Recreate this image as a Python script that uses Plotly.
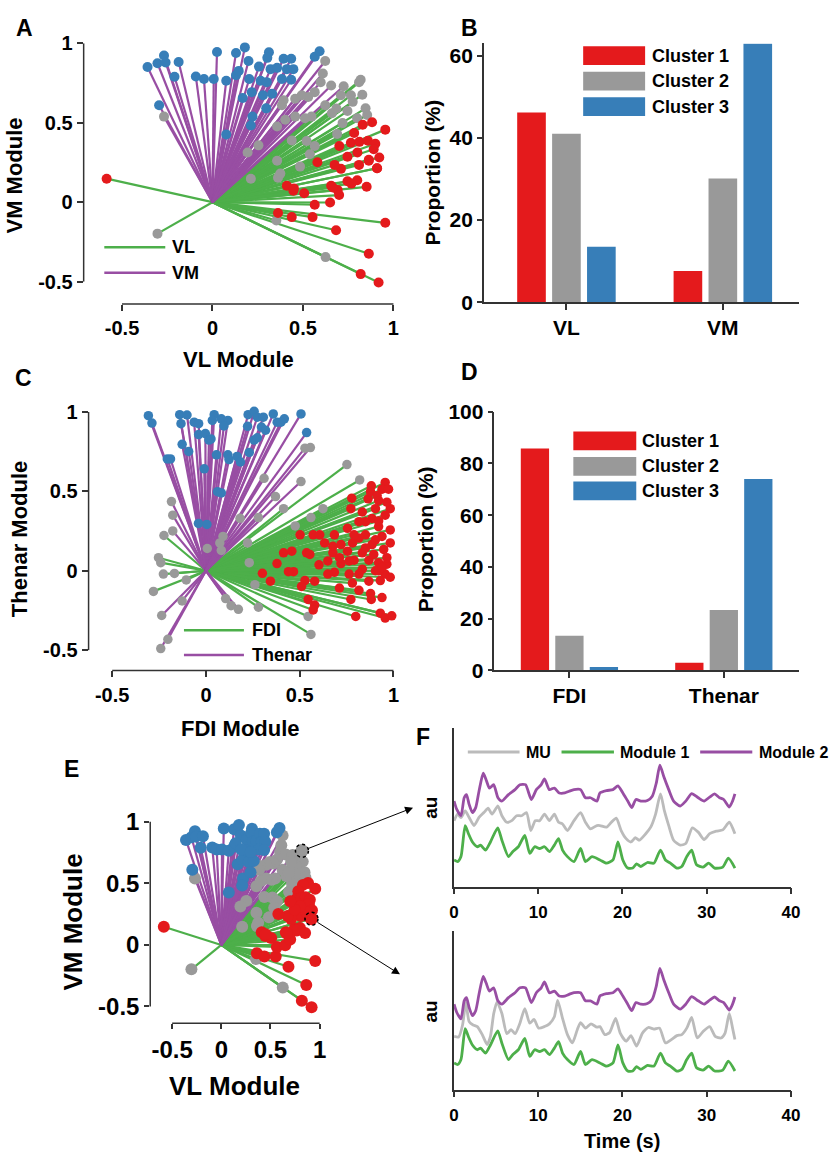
import plotly.graph_objects as go

W, H = 837, 1165
FONT = "Liberation Sans, Arial, Helvetica, sans-serif"
RED, GRAY, BLUE = "#E41A1C", "#999999", "#377EB8"
GREEN, PURPLE, LGRAY = "#4DAF4A", "#984EA3", "#BBBBBB"
AXC = "#333333"

# ---------------- data: panel A / E (VL vs VM module weights) ----------------
vl_c1_x = [-0.585, 0.955, 0.683, 0.864, 0.819, 0.918, 0.362, 0.438, 0.553, 0.565, 0.65, 0.411, 0.447,
           0.507, 0.656, 0.692, 0.70, 0.746, 0.80, 0.768, 0.852, 0.909, 0.81, 0.71, 0.675, 0.58, 0.864,
           0.955, 0.882, 0.83, 0.783, 0.765, 0.812, 0.859, 0.90, 0.891, 0.922, 0.91, 0.864, 0.801,
           0.746, 0.701, 0.45, 0.665]
vm_c1_y = [0.148, -0.13, -0.177, -0.325, -0.453, -0.506, -0.068, -0.094, -0.094, -0.016, -0.002, 0.103, 0.072,
           0.056, 0.103, 0.076, 0.045, 0.132, 0.138, 0.117, 0.097, 0.214, 0.235, 0.21, 0.235, 0.251, 0.261,
           0.457, 0.504, 0.488, 0.436, 0.374, 0.38, 0.387, 0.368, 0.333, 0.282, 0.214, 0.267, 0.313,
           0.286, 0.354, 0.087, 0.092]
vl_c2_x = [0.623, 0.61, 0.598, 0.656, 0.725, 0.81, 0.819, 0.765, 0.828, 0.775, 0.846, 0.855, 0.80, 0.746,
           0.719, 0.689, 0.66, 0.623, 0.565, 0.529, 0.493, 0.457, 0.393, 0.384, 0.547, 0.511, 0.457, 0.402,
           0.357, 0.438, 0.52, 0.565, 0.538, 0.357, 0.484, 0.254, 0.194, 0.212, 0.362, 0.375, -0.268,
           0.685, 0.71, -0.304, 0.353, 0.625]
vm_c2_y = [0.889, 0.81, 0.755, 0.735, 0.73, 0.755, 0.771, 0.673, 0.677, 0.632, 0.591, 0.549, 0.529, 0.574,
           0.498, 0.43, 0.56, 0.611, 0.693, 0.662, 0.673, 0.652, 0.642, 0.611, 0.539, 0.529, 0.539, 0.519,
           0.477, 0.389, 0.385, 0.354, 0.302, 0.261, 0.224, 0.358, 0.313, 0.148, 0.154, 0.18, 0.539,
           0.59, 0.673, -0.198, -0.115, -0.346]
vl_c3_x = [-0.359, -0.304, -0.268, -0.259, -0.187, -0.21, -0.295, -0.092, -0.047, 0.007, 0.025, 0.076, 0.076,
           0.13, 0.179, 0.199, 0.13, 0.145, 0.167, 0.217, 0.221, 0.212, 0.257, 0.279, 0.297, 0.33, 0.312,
           0.303, 0.321, 0.266, 0.203, 0.357, 0.393, 0.435, 0.411, 0.447, 0.384, 0.435, 0.565, 0.592, 0.30]
vm_c3_y = [0.852, 0.875, 0.924, 0.88, 0.883, 0.79, 0.611, 0.792, 0.776, 0.776, 0.946, 0.765, 0.426,
           0.94, 0.975, 0.889, 0.80, 0.827, 0.656, 0.693, 0.539, 0.483, 0.854, 0.673, 0.591, 0.683, 0.944,
           0.909, 0.838, 0.765, 0.776, 0.846, 0.903, 0.903, 0.838, 0.838, 0.776, 0.771, 0.916, 0.951, 0.756]

# highlighted motor units in panel E
hl_x = [0.82, 0.917]
hl_y = [0.765, 0.213]

# ---------------- data: panel C (FDI vs Thenar) ----------------
fdi_c1_x = [0.956, 0.882, 0.939, 0.974, 0.778, 0.865, 0.921, 0.983, 0.904, 0.773, 0.834, 0.956, 0.886, 0.816,
            0.755, 0.921, 0.983, 0.685, 0.851, 0.939, 0.572, 0.502, 0.633, 0.72, 0.782, 0.886, 0.983, 0.948,
            0.834, 0.755, 0.677, 0.537, 0.414, 0.458, 0.554, 0.65, 0.72, 0.79, 0.869, 0.921, 0.965, 0.379,
            0.603, 0.834, 0.904, 0.956, 0.764, 0.685, 0.467, 0.44, 0.301, 0.344, 0.528, 0.58, 0.51, 0.712,
            0.816, 0.878, 0.983, 0.93, 0.869, 0.781, 0.545, 0.58, 0.572, 0.773, 0.882, 0.939, 0.799, 0.93,
            0.956, 0.991, 0.921, 0.851, 0.816, 0.895, 0.764, 0.607, 0.677, 0.878, 0.913, 0.965, 0.79, 0.904,
            0.965, 0.65, 0.816, 0.921, 0.851, 0.939, 0.712]
thn_c1_y = [0.556, 0.535, 0.514, 0.514, 0.457, 0.453, 0.442, 0.391, 0.391, 0.391, 0.37, 0.35, 0.329, 0.309,
            0.267, 0.278, 0.257, 0.226, 0.226, 0.216, 0.226, 0.226, 0.175, 0.165, 0.175, 0.165, 0.175, 0.134,
            0.113, 0.123, 0.113, 0.113, 0.113, 0.123, 0.103, 0.062, 0.045, 0.066, 0.066, 0.051, 0.041, 0.045,
            0.037, 0.01, 0.0, -0.021, -0.021, -0.01, -0.006, -0.006, -0.016, -0.066, -0.062, -0.066, -0.099,
            -0.109, -0.123, -0.144, -0.041, -0.062, -0.066, -0.078, -0.181, -0.216, -0.247, -0.181, -0.181,
            -0.169, -0.288, -0.267, -0.298, -0.284, 0.313, 0.309, 0.206, 0.103, 0.062, 0.226, 0.154, 0.498,
            0.473, 0.432, 0.226, 0.195, 0.082, -0.021, -0.021, 0.0, 0.144, 0.021, 0.082]
fdi_c2_x = [0.528, 0.557, 0.752, 0.82, 0.507, 0.31, 0.371, 0.414, 0.624, 0.56, 0.476, 0.28, 0.182, 0.222,
            0.091, 0.074, 0.082, 0.007, 0.231, 0.261, -0.184, -0.177, -0.224, -0.177, -0.253, -0.241, -0.227,
            -0.168, -0.105, -0.28, -0.127, -0.236, -0.203, -0.241, 0.105, 0.134, 0.173, 0.28, 0.545, 0.56]
thn_c2_y = [0.772, 0.776, 0.669, 0.572, 0.562, 0.582, 0.467, 0.391, 0.391, 0.335, 0.282, 0.335, 0.33, 0.175,
            0.216, 0.175, 0.128, 0.14, 0.051, -0.088, 0.436, 0.35, 0.222, 0.251, 0.082, 0.051, -0.021,
            -0.017, -0.058, -0.13, -0.19, -0.282, -0.432, -0.49, -0.175, -0.22, -0.243, -0.23, -0.288, -0.401]
fdi_c3_x = [-0.307, -0.288, -0.206, -0.189, -0.14, -0.133, -0.101, -0.127, -0.092, -0.063, -0.039, -0.039,
            -0.009, -0.04, 0.005, -0.003, 0.016, 0.027, 0.044, 0.034, 0.082, 0.117, 0.096, 0.056, 0.062, 0.082,
            0.117, 0.123, 0.166, 0.184, 0.225, 0.257, 0.274, 0.231, 0.222, 0.257, 0.274, 0.296, 0.306, 0.318,
            0.359, 0.38, 0.418, 0.40, 0.507, 0.537]
thn_c3_y = [0.977, 0.93, 0.704, 0.704, 0.983, 0.926, 0.981, 0.796, 0.751, 0.936, 0.926, 0.858, 0.642, 0.298,
            0.292, 0.864, 0.823, 0.83, 0.983, 0.947, 0.957, 0.947, 0.912, 0.73, 0.498, 0.49, 0.73, 0.70, 0.72,
            0.685, 0.983, 1.004, 0.967, 0.745, 0.91, 0.823, 0.837, 0.905, 0.967, 0.885, 0.988, 0.936, 0.957,
            0.936, 0.988, 0.87]

# ---------------- data: panels B and D (proportions, %) ----------------
b_categories = ["VL", "VM"]
b_cluster1 = [46.2, 7.6]
b_cluster2 = [41.0, 30.1]
b_cluster3 = [13.5, 62.9]
d_categories = ["FDI", "Thenar"]
d_cluster1 = [85.8, 3.0]
d_cluster2 = [13.4, 23.4]
d_cluster3 = [1.3, 74.0]
cluster_names = ["Cluster 1", "Cluster 2", "Cluster 3"]

# ---------------- data: panel F (time courses, au) ----------------
mod2_t = [0, 0.31, 0.82, 1.2, 1.48, 1.79, 2.18, 2.57, 2.96, 3.46, 3.81, 4.2, 4.7, 5.21, 5.68, 6.46, 7.24, 7.82,
          8.48, 9.18, 9.77, 10.35, 10.74, 11.32, 11.91, 12.49, 13.15, 13.66, 14.24, 15.02, 15.6, 16.19, 16.96,
          17.32, 18.09, 18.87, 19.46, 20.04, 20.62, 21.09, 21.6, 22.18, 22.96, 23.54, 24.01, 24.44, 24.9, 25.49,
          26.07, 26.85, 27.51, 28.21, 28.99, 29.69, 30.35, 30.93, 31.52, 32.02, 32.68, 33.07, 33.35]
mod2_v = [5.38, 4.87, 4.46, 5.59, 5.79, 5.17, 4.66, 4.97, 6.0, 7.13, 6.71, 6.2, 6.41, 5.59, 5.38, 5.79, 6.1, 6.41,
          6.41, 5.48, 6.1, 6.41, 6.78, 6.1, 6.2, 5.89, 5.89, 6.0, 6.1, 6.1, 5.59, 5.59, 5.38,
          5.89, 6.04, 6.1, 6.34, 5.89, 5.38, 4.97, 5.48, 5.38, 5.42, 5.69, 6.51, 7.64, 6.92, 6.1,
          5.38, 5.07, 5.38, 5.85, 5.59, 5.38, 5.63, 5.83, 5.59, 5.48, 5.01, 5.38, 5.83]
mod1_t = [0, 0.43, 0.82, 1.32, 1.71, 2.18, 2.76, 3.15, 3.74, 4.32, 5.18, 5.68, 6.46, 6.96, 7.63, 8.4, 8.99, 9.57,
          10.16, 10.74, 11.32, 11.91, 12.41, 12.88, 13.46, 14.24, 15.02, 15.6, 16.38, 17.32, 18.09, 18.87, 19.46,
          20.04, 20.62, 21.21, 21.67, 22.18, 22.96, 23.74, 24.51, 25.1, 25.68, 26.46, 27.04, 27.63, 28.21, 28.79,
          29.57, 30.23, 30.93, 31.91, 32.57, 33.35]
mod1_v = [1.68, 1.58, 1.89, 3.84, 3.33, 2.81, 2.51, 2.61, 2.3, 2.81, 3.7, 2.92, 1.89, 2.2, 2.51, 3.22, 2.09, 2.51,
          2.4, 2.51, 2.2, 2.61, 3.02, 2.3, 1.89, 1.58, 2.4, 1.58, 1.89, 1.68, 1.48, 1.68, 2.81,
          1.68, 1.17, 1.17, 1.44, 1.27, 1.52, 1.48, 2.3, 1.68, 1.48, 1.17, 1.27, 1.89, 2.3, 1.38,
          1.23, 1.48, 1.17, 1.23, 1.79, 1.17]
mu1_t = [0, 0.43, 0.82, 1.32, 1.79, 2.37, 2.96, 3.54, 4.05, 4.51, 5.21, 5.68, 6.26, 6.85, 7.43, 8.02, 8.6, 9.11,
         9.65, 10.16, 10.74, 11.32, 11.91, 12.41, 12.88, 13.46, 14.24, 15.02, 15.6, 16.19, 16.96, 17.32, 18.09,
         18.68, 19.26, 19.84, 20.43, 21.01, 21.52, 21.98, 22.76, 23.35, 23.93, 24.51, 24.98, 25.49, 26.07, 26.85,
         27.51, 28.29, 28.99, 29.69, 30.35, 31.13, 31.91, 32.68, 33.35]
mu1_v = [4.15, 4.56, 4.35, 4.76, 4.35, 3.84, 4.35, 4.66, 4.93, 4.56, 5.07, 4.46, 4.05, 4.15, 4.46, 4.46, 4.66, 3.53,
         4.15, 4.15, 4.56, 4.15, 4.56, 4.05, 3.94, 3.53, 4.15, 4.66, 4.05, 3.63, 3.84, 3.84, 3.74,
         4.05, 4.31, 3.53, 3.02, 2.81, 3.08, 2.92, 3.33, 3.74, 4.56, 5.83, 4.76, 3.84, 2.92, 2.61,
         2.71, 3.7, 3.43, 2.96, 3.33, 3.49, 3.57, 4.05, 3.33]
mu2_t = [0, 0.54, 1.01, 1.4, 1.79, 2.26, 2.76, 3.35, 3.93, 4.32, 4.71, 5.1, 5.68, 6.26, 6.77, 7.24, 7.82, 8.4,
         8.99, 9.49, 10.04, 10.74, 11.32, 11.91, 12.3, 12.88, 13.46, 14.05, 14.63, 15.02, 15.6, 16.26, 16.96,
         17.32, 17.9, 18.48, 19.18, 19.73, 20.43, 21.01, 21.67, 22.37, 23.07, 23.74, 24.4, 25.1, 25.8, 26.46,
         27.04, 27.63, 28.21, 28.87, 29.57, 30.35, 31.01, 31.71, 32.18, 32.68, 33.07, 33.35]
mu2_v = [3.35, 3.31, 4.07, 5.51, 4.28, 4.07, 3.97, 3.46, 2.84, 3.35, 4.79, 5.51, 4.79, 3.52, 3.77, 3.52, 4.18, 5.1,
         4.18, 4.42, 3.87, 3.97, 4.14, 4.59, 5.62, 4.49, 3.46, 2.94, 3.77, 4.22, 3.87, 4.14, 3.93,
         3.97, 3.46, 3.6, 4.49, 3.56, 3.05, 3.4, 2.74, 3.56, 3.91, 3.81, 3.87, 2.94, 3.15, 3.4,
         3.46, 3.87, 4.55, 3.25, 3.66, 3.97, 3.35, 3.25, 3.56, 4.79, 3.87, 3.15]

# ---------------- helpers ----------------
def px(x):
    return x / W


def py(y):
    return 1 - y / H


def spokes(xs, ys):
    """Segments from origin to each point; split by dominant module."""
    gx, gy, mx, my = [], [], [], []
    for x, y in zip(xs, ys):
        if abs(x) >= abs(y):
            gx += [0, x, None]; gy += [0, y, None]
        else:
            mx += [0, x, None]; my += [0, y, None]
    return gx, gy, mx, my


fig = go.Figure()


def scatter_panel(xa, ya, clusters, msize, lw):
    allx = sum([c[0] for c in clusters], [])
    ally = sum([c[1] for c in clusters], [])
    gx, gy, mx, my = spokes(allx, ally)
    fig.add_trace(go.Scatter(x=gx, y=gy, mode="lines", line=dict(color=GREEN, width=lw),
                             xaxis=xa, yaxis=ya, showlegend=False, hoverinfo="skip"))
    fig.add_trace(go.Scatter(x=mx, y=my, mode="lines", line=dict(color=PURPLE, width=lw),
                             xaxis=xa, yaxis=ya, showlegend=False, hoverinfo="skip"))
    for (cx, cy, col) in [clusters[1], clusters[2], clusters[0]]:
        fig.add_trace(go.Scatter(x=cx, y=cy, mode="markers", marker=dict(color=col, size=msize, line=dict(width=0)),
                                 xaxis=xa, yaxis=ya, showlegend=False, cliponaxis=False))


vlvm = [(vl_c1_x, vm_c1_y, RED), (vl_c2_x, vm_c2_y, GRAY), (vl_c3_x, vm_c3_y, BLUE)]
fdith = [(fdi_c1_x, thn_c1_y, RED), (fdi_c2_x, thn_c2_y, GRAY), (fdi_c3_x, thn_c3_y, BLUE)]

scatter_panel("x", "y", vlvm, 10, 2.2)
scatter_panel("x3", "y3", fdith, 9.5, 2.2)
scatter_panel("x5", "y5", vlvm, 12, 2.2)


def bar_panel(xa, ya, cats, vals):
    for name, v, col in zip(cluster_names, vals, [RED, GRAY, BLUE]):
        fig.add_trace(go.Bar(x=cats, y=v, name=name, marker=dict(color=col, line=dict(width=0)),
                             xaxis=xa, yaxis=ya, showlegend=False))


bar_panel("x2", "y2", b_categories, [b_cluster1, b_cluster2, b_cluster3])
bar_panel("x4", "y4", d_categories, [d_cluster1, d_cluster2, d_cluster3])

for xa, ya, mu_t, mu_v in [("x6", "y6", mu1_t, mu1_v), ("x7", "y7", mu2_t, mu2_v)]:
    for t, v, col in [(mod1_t, mod1_v, GREEN), (mu_t, mu_v, LGRAY), (mod2_t, mod2_v, PURPLE)]:
        fig.add_trace(go.Scatter(x=t, y=v, mode="lines", line=dict(color=col, width=2.8, shape="spline", smoothing=0.6),
                                 xaxis=xa, yaxis=ya, showlegend=False))

# ---------------- axes ----------------
def tf(size):
    return dict(family=FONT, size=size, color="black", weight="bold")


def sc_axes(xr, yr, xdom, ydom, fs, ticklen, xstand):
    common = dict(showgrid=False, zeroline=False, showline=False, ticks="outside", ticklen=ticklen,
                  tickwidth=1.5, tickcolor=AXC, tickfont=tf(fs))
    xa = dict(common, range=xr, domain=xdom, tickvals=[-0.5, 0, 0.5, 1], ticktext=["-0.5", "0", "0.5", "1"],
              ticklabelstandoff=xstand)
    ya = dict(common, range=yr, domain=ydom, tickvals=[-0.5, 0, 0.5, 1], ticktext=["-0.5", "0", "0.5", "1"])
    return xa, ya


# pixel boxes
A_box = (80, 400, 28, 298); A_xr = [-0.712, 1.027]; A_yr = [-0.642, 1.025]
C_box = (85, 400, 398, 671.7); C_xr = [-0.626, 1.026]; C_yr = [-0.628, 1.062]
E_box = (147.7, 325, 815, 1031.7); E_xr = [-0.723, 1.05]; E_yr = [-0.637, 1.089]
B_box = (487, 808, 32, 296); B_xr = [-0.528, 1.49]
D_box = (497.7, 808, 407.7, 671.7); D_xr = [-0.486, 1.49]
F1_box = (456.7, 799.3, 730, 892.3)
F2_box = (456.7, 799.3, 937.3, 1099.3)


def dom(box):
    x0, x1, y0, y1 = box
    return [px(x0), px(x1)], [py(y1), py(y0)]


lay = {}
xd, yd = dom(A_box)
lay["xaxis"], lay["yaxis"] = sc_axes(A_xr, A_yr, xd, yd, 20, 6, 0)
lay["xaxis"]["anchor"] = "y"; lay["yaxis"]["anchor"] = "x"
xd, yd = dom(C_box)
lay["xaxis3"], lay["yaxis3"] = sc_axes(C_xr, C_yr, xd, yd, 20, 6, 1)
lay["xaxis3"]["anchor"] = "y3"; lay["yaxis3"]["anchor"] = "x3"
xd, yd = dom(E_box)
lay["xaxis5"], lay["yaxis5"] = sc_axes(E_xr, E_yr, xd, yd, 24, 5, 0)
lay["xaxis5"]["anchor"] = "y5"; lay["yaxis5"]["anchor"] = "x5"


def bar_axes(xr, yr, box, tvals, fs):
    xd, yd = dom(box)
    xa = dict(range=xr, domain=xd, showgrid=False, zeroline=False, showline=True, linecolor=AXC, linewidth=1.5,
              ticks="outside", ticklen=6, tickwidth=1.5, tickcolor=AXC, tickfont=tf(fs))
    ya = dict(range=yr, domain=yd, showgrid=False, zeroline=False, showline=True, linecolor=AXC, linewidth=1.5,
              ticks="outside", ticklen=5, tickwidth=1.5, tickcolor=AXC, tickfont=tf(fs), tickvals=tvals)
    return xa, ya


lay["xaxis2"], lay["yaxis2"] = bar_axes(B_xr, [0, 63], B_box, [0, 20, 40, 60], 21)
lay["xaxis2"]["anchor"] = "y2"; lay["yaxis2"]["anchor"] = "x2"
lay["xaxis4"], lay["yaxis4"] = bar_axes(D_xr, [0, 100], D_box, [0, 20, 40, 60, 80, 100], 21)
lay["xaxis4"]["anchor"] = "y4"; lay["yaxis4"]["anchor"] = "x4"

for i, box in [(6, F1_box), (7, F2_box)]:
    xd, yd = dom(box)
    lay[f"xaxis{i}"] = dict(range=[0, 40], domain=xd, anchor=f"y{i}", showgrid=False, zeroline=False,
                            showline=True, linecolor=AXC, linewidth=1.5, ticks="outside", ticklen=6,
                            tickwidth=1.5, tickcolor=AXC, tickvals=[0, 10, 20, 30, 40], tickfont=tf(17),
                            ticklabelstandoff=3)
    lay[f"yaxis{i}"] = dict(range=[0, 10], domain=yd, anchor=f"x{i}", showgrid=False, zeroline=False,
                            showline=True, linecolor=AXC, linewidth=1.5, ticks="", showticklabels=False)

# ---------------- shapes: detached axis lines, legends, highlights ----------------
shapes = []


def frac(v, r):
    return (v - r[0]) / (r[1] - r[0])


for xa, ya, xr, yr in [("x", "y", A_xr, A_yr), ("x3", "y3", C_xr, C_yr), ("x5", "y5", E_xr, E_yr)]:
    shapes.append(dict(type="line", xref=f"{xa} domain", yref=f"{ya} domain", x0=frac(-0.5, xr), x1=frac(1, xr),
                       y0=0, y1=0, line=dict(color=AXC, width=1.5)))
    shapes.append(dict(type="line", xref=f"{xa} domain", yref=f"{ya} domain", x0=0, x1=0,
                       y0=frac(-0.5, yr), y1=frac(1, yr), line=dict(color=AXC, width=1.5)))

# line legends A, C and F
for (x0, x1, y, col) in [(101, 163, 240, GREEN), (101, 163, 266, PURPLE),
                         (182, 243, 630.7, GREEN), (182, 243, 656, PURPLE),
                         (470.7, 523.3, 755, LGRAY), (566, 619.3, 755, GREEN), (707, 760, 755, PURPLE)]:
    shapes.append(dict(type="line", xref="paper", yref="paper", x0=px(x0), x1=px(x1), y0=py(y), y1=py(y),
                       line=dict(color=col, width=2.5 if x0 < 400 else 3)))

# box legends B and D
for (x0, x1, tops, hgt) in [(588, 651, [35, 61, 87], 19), (578, 642, [428, 454, 479], 19)]:
    for t, col in zip(tops, [RED, GRAY, BLUE]):
        shapes.append(dict(type="rect", xref="paper", yref="paper", x0=px(x0), x1=px(x1), y0=py(t + hgt), y1=py(t),
                           fillcolor=col, line=dict(width=0)))

# highlighted MUs in E
for hx, hy, col in zip(hl_x, hl_y, [GRAY, RED]):
    shapes.append(dict(type="circle", xref="x5", yref="y5", xsizemode="pixel", ysizemode="pixel",
                       xanchor=hx, yanchor=hy, x0=-6.5, x1=6.5, y0=-6.5, y1=6.5, fillcolor=col,
                       line=dict(color="black", width=1.5, dash="dot"), layer="above"))

# ---------------- annotations ----------------
ann = []


def text(x, y, s, size, xanchor="center", angle=0):
    ann.append(dict(xref="paper", yref="paper", x=px(x), y=py(y), text=s, showarrow=False, textangle=angle,
                    xanchor=xanchor, yanchor="middle", font=tf(size)))


# panel letters
for s, x, y in [("A", 20, 16), ("B", 472, 16), ("C", 19, 373), ("D", 472, 367), ("E", 68, 772), ("F", 425, 740)]:
    text(x, y, s, 23)

# axis titles
text(10, 167, "VM Module", 22, angle=-90)
text(237, 354, "VL Module", 22)
text(435, 164, "Proportion (%)", 21, angle=-90)
text(15, 538, "Thenar Module", 22, angle=-90)
text(240, 731, "FDI Module", 22)
text(428, 538, "Proportion (%)", 21, angle=-90)
text(69, 928, "VM Module", 26, angle=-90)
text(233, 1096, "VL Module", 26)
text(433, 812, "au", 19, angle=-90)
text(433, 1020, "au", 19, angle=-90)
text(627, 1152, "Time (s)", 20)

# legend texts
text(168, 240, "VL", 18, xanchor="left")
text(168, 266, "VM", 18, xanchor="left")
text(249, 630.7, "FDI", 18, xanchor="left")
text(249, 656, "Thenar", 18, xanchor="left")
for nm, y in zip(cluster_names, [44.5, 70.5, 96.5]):
    text(656, y, nm, 18, xanchor="left")
for nm, y in zip(cluster_names, [437.5, 463.5, 488.5]):
    text(646, y, nm, 18, xanchor="left")
text(528, 755, "MU", 16, xanchor="left")
text(623, 755, "Module 1", 16, xanchor="left")
text(765, 755, "Module 2", 16, xanchor="left")

# arrows from highlighted MUs to panel F
ann.append(dict(xref="paper", yref="paper", x=px(415), y=py(811.7), ax=-113, ay=44, text="", showarrow=True,
                arrowhead=2, arrowsize=1.6, arrowwidth=1, arrowcolor="black", startstandoff=7))
ann.append(dict(xref="paper", yref="paper", x=px(401.7), y=py(981.7), ax=-90, ay=-56.7, text="", showarrow=True,
                arrowhead=2, arrowsize=1.6, arrowwidth=1, arrowcolor="black", startstandoff=7))

fig.update_layout(width=W, height=H, margin=dict(l=0, r=0, t=0, b=0), paper_bgcolor="white",
                  plot_bgcolor="white", font=dict(family=FONT, color="black"), showlegend=False,
                  barmode="group", bargap=0.33, bargroupgap=0.18, shapes=shapes, annotations=ann, **lay)

fig.write_html("out.html", config={"displayModeBar": False},
               post_script="document.body.style.margin='0px';document.body.style.overflow='hidden';")
